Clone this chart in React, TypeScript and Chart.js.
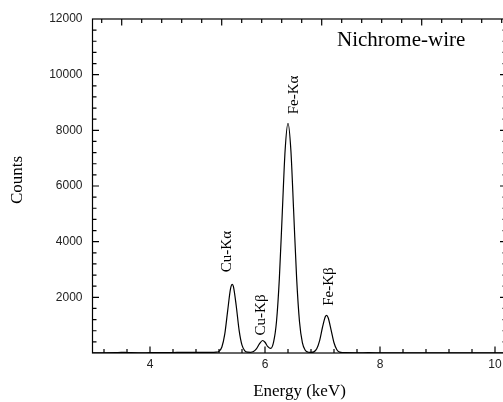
import React, { useEffect, useRef } from 'react';
import { Chart, registerables } from 'chart.js';

Chart.register(...registerables);

// Energy (keV) and counts
const energy = [
  3.0, 3.2, 3.4, 3.5, 3.6, 3.8, 4.0, 4.2, 4.4, 4.6, 4.8,
  5.0, 5.1, 5.15, 5.2, 5.25, 5.3, 5.35, 5.4, 5.43, 5.45,
  5.5, 5.55, 5.6, 5.65, 5.7, 5.75, 5.8, 5.85, 5.9, 5.96,
  6.0, 6.05, 6.1, 6.15, 6.2, 6.25, 6.3, 6.35, 6.4, 6.45,
  6.5, 6.55, 6.6, 6.65, 6.7, 6.75, 6.8, 6.85, 6.9, 6.95,
  7.0, 7.05, 7.07, 7.1, 7.15, 7.2, 7.25, 7.3, 7.35, 7.4,
  7.6, 7.8, 8.0, 8.5, 9.0, 9.5, 10.0, 10.2,
];
const counts = [
  5, 8, 15, 22, 18, 8, 10, 12, 18, 25, 20,
  22, 25, 30, 60, 215, 675, 1505, 2300, 2465, 2390,
  1690, 815, 280, 76, 30, 25, 51, 145, 318, 450,
  386, 226, 164, 398, 1130, 2690, 5010, 7285, 8255, 7285,
  5010, 2690, 1125, 370, 100, 28, 20, 40, 150, 445,
  925, 1308, 1350, 1258, 823, 368, 117, 31, 12, 10,
  8, 10, 8, 6, 5, 4, 3, 3,
];

// Peak annotations (text, energy of text baseline, counts at text centre)
const peakNames = ['Cu-K\u03b1', 'Cu-K\u03b2', 'Fe-K\u03b1', 'Fe-K\u03b2'];
const peakNameEnergy = [5.417, 6.0, 6.574, 7.191];
const peakNameCounts = [3645, 1367, 9270, 2387];

const xMin = 3;
const xMax = 10.2;
const xMinorStep = 0.4;
const xLabelStep = 2;
const yMin = 0;
const yMax = 12000;
const yMinorStep = 400;
const yLabelStep = 2000;
const topMin = 0.708;
const topMax = 4.848;
const topMinorStep = 0.2;
const topMajorEvery = 5;

const titleText = 'Nichrome-wire';
const xTitle = 'Energy (keV)';
const yTitle = 'Counts';

const SERIF = '"Liberation Serif", "Times New Roman", serif';
const SANS = '"Liberation Sans", Arial, sans-serif';

const isMultiple = (v: number, step: number) =>
  Math.abs(v / step - Math.round(v / step)) < 1e-6;

const multiplesIn = (lo: number, hi: number, step: number) => {
  const out: number[] = [];
  for (let i = Math.ceil(lo / step - 1e-9); i * step <= hi + 1e-9; i++) {
    out.push(Math.round(i * step * 1e6) / 1e6);
  }
  return out;
};

const framePlugin = {
  id: 'frame',
  afterDraw(chart: any) {
    const { ctx, chartArea: a, scales } = chart;
    const x = scales.x;
    const y = scales.y;
    const x2 = scales.x2;
    ctx.save();
    ctx.strokeStyle = '#000';
    ctx.lineWidth = 1.2;
    ctx.strokeRect(a.left, a.top, a.right - a.left, a.bottom - a.top);
    ctx.beginPath();
    for (const v of multiplesIn(xMin, xMax, xMinorStep)) {
      if (v <= xMin + 1e-6 || v >= xMax - 1e-6) continue;
      const px = x.getPixelForValue(v);
      const len = isMultiple(v, xLabelStep) ? 6.5 : 4;
      ctx.moveTo(px, a.bottom);
      ctx.lineTo(px, a.bottom - len);
    }
    for (const v of multiplesIn(yMin, yMax, yMinorStep)) {
      if (v <= yMin || v >= yMax) continue;
      const py = y.getPixelForValue(v);
      const len = isMultiple(v, yLabelStep) ? 6.5 : 4;
      ctx.moveTo(a.left, py);
      ctx.lineTo(a.left + len, py);
      ctx.moveTo(a.right, py);
      ctx.lineTo(a.right - len, py);
    }
    for (const v of multiplesIn(topMin, topMax, topMinorStep)) {
      const px = x2.getPixelForValue(v);
      const len = isMultiple(v, topMinorStep * topMajorEvery) ? 6.5 : 4;
      ctx.moveTo(px, a.top);
      ctx.lineTo(px, a.top + len);
    }
    ctx.stroke();

    ctx.fillStyle = '#000';
    // peak labels, rotated
    ctx.font = `15px ${SERIF}`;
    ctx.textAlign = 'center';
    ctx.textBaseline = 'alphabetic';
    peakNames.forEach((name, i) => {
      const px = x.getPixelForValue(peakNameEnergy[i]);
      const py = y.getPixelForValue(peakNameCounts[i]);
      ctx.save();
      ctx.translate(px, py);
      ctx.rotate(-Math.PI / 2);
      ctx.fillText(name, 0, 0);
      ctx.restore();
    });

    // in-plot title
    ctx.font = `21px ${SERIF}`;
    ctx.textAlign = 'left';
    ctx.fillText(titleText, 337, 45.5);

    // axis titles
    ctx.font = `17px ${SERIF}`;
    ctx.textAlign = 'center';
    ctx.fillText(xTitle, (a.left + a.right) / 2, 396);
    ctx.save();
    ctx.translate(17.5, 180);
    ctx.rotate(-Math.PI / 2);
    ctx.textBaseline = 'middle';
    ctx.fillText(yTitle, 0, 0);
    ctx.restore();
    ctx.restore();
  },
};

export default function App() {
  const ref = useRef<HTMLCanvasElement | null>(null);

  useEffect(() => {
    if (!ref.current) return;
    const chart = new Chart(ref.current, {
      type: 'line',
      data: {
        datasets: [
          {
            data: energy.map((e, i) => ({ x: e, y: counts[i] })),
            borderColor: '#000',
            borderWidth: 1.2,
            pointRadius: 0,
            fill: false,
            cubicInterpolationMode: 'monotone',
          },
        ],
      },
      options: {
        animation: false,
        responsive: false,
        devicePixelRatio: 1,
        layout: { padding: { left: 0, right: 1.5, top: 19, bottom: 0 } },
        plugins: { legend: { display: false }, tooltip: { enabled: false } },
        scales: {
          x: {
            type: 'linear',
            min: xMin,
            max: xMax,
            grid: { display: false, drawTicks: false },
            border: { display: false },
            afterBuildTicks: (s: any) => {
              s.ticks = multiplesIn(xMin, xMax, xLabelStep).map((value) => ({ value }));
            },
            afterFit: (s: any) => {
              s.height = 49;
            },
            ticks: {
              autoSkip: false,
              maxRotation: 0,
              padding: 4,
              color: '#222',
              font: { family: SANS, size: 12 },
              callback: (v: any) => String(Math.round(Number(v))),
            },
          },
          x2: {
            type: 'linear',
            position: 'top',
            display: false,
            min: topMin,
            max: topMax,
          },
          y: {
            type: 'linear',
            min: yMin,
            max: yMax,
            grid: { display: false, drawTicks: false },
            border: { display: false },
            afterBuildTicks: (s: any) => {
              s.ticks = multiplesIn(yMin, yMax, yLabelStep)
                .filter((v) => v !== 0)
                .map((value) => ({ value }));
            },
            afterFit: (s: any) => {
              s.width = 92.5;
            },
            ticks: {
              autoSkip: false,
              padding: 10,
              color: '#222',
              font: { family: SANS, size: 12 },
              callback: (v: any) => String(Number(v)),
            },
          },
        },
      },
      plugins: [framePlugin],
    } as any);
    return () => chart.destroy();
  }, []);

  return (
    <div
      style={{
        position: 'fixed',
        left: 0,
        top: 0,
        width: 503,
        height: 402,
        overflow: 'hidden',
        background: '#fff',
      }}
    >
      <canvas ref={ref} width={508} height={402} style={{ display: 'block', width: 508, height: 402 }} />
    </div>
  );
}
